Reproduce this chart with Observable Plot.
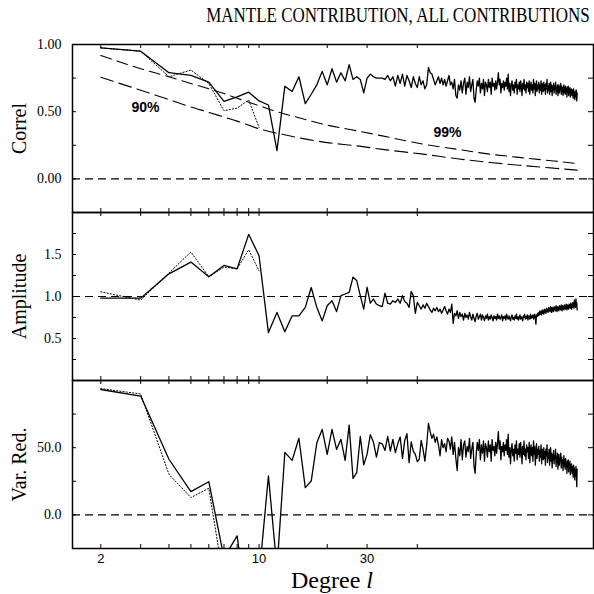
<!DOCTYPE html>
<html>
<head>
<meta charset="utf-8">
<script src="https://cdn.jsdelivr.net/npm/d3@7"></script>
<script src="https://cdn.jsdelivr.net/npm/@observablehq/plot@0.6"></script>
<style>
  body { margin: 0; background: #fff; }
  #wrap { position: relative; width: 594px; height: 594px; overflow: hidden; }
  #title { position: absolute; right: 4px; top: 2px; font-family: "Liberation Serif", "Times New Roman", serif; font-size: 22px; line-height: 26px; white-space: nowrap; color: #000; transform: scaleX(0.772); transform-origin: right center; }
  #xlabel { position: absolute; left: 291px; top: 572px; font-family: "Liberation Serif", "Times New Roman", serif; font-size: 24px; line-height: 16px; height: 16px; white-space: nowrap; color: #000; }
</style>
</head>
<body>
<div id="wrap">
  <div id="title">MANTLE CONTRIBUTION, ALL CONTRIBUTIONS</div>
  <div id="xlabel">Degree <i>l</i></div>
</div>
<script>
// ---------------- data ----------------
const degreeFirst = 2, degreeLast = 254;

// solid: correlation, degree 2..254
const correl = [
  0.975, 0.95, 0.79, 0.77, 0.72, 0.577, 0.61, 0.645, 0.58, 0.55,
  0.21, 0.69, 0.65, 0.76, 0.56, 0.63, 0.70, 0.80, 0.70, 0.82,
  0.72, 0.79, 0.73, 0.85, 0.74, 0.76, 0.74, 0.64, 0.75, 0.78,
  0.76, 0.75, 0.75, 0.75, 0.74, 0.77, 0.73, 0.76, 0.69, 0.77,
  0.71, 0.78, 0.69, 0.77, 0.73, 0.68, 0.76, 0.71, 0.68, 0.76,
  0.70, 0.73, 0.67, 0.70, 0.83, 0.79, 0.78, 0.74, 0.70,
  0.73, 0.76, 0.71, 0.75, 0.70, 0.74, 0.69, 0.73, 0.77, 0.70,
  0.72, 0.67, 0.74, 0.62, 0.60, 0.70, 0.66, 0.73, 0.64, 0.71,
  0.75, 0.63, 0.72, 0.68, 0.76, 0.65, 0.70, 0.74, 0.60, 0.57,
  0.66, 0.73, 0.69, 0.75, 0.64, 0.71, 0.67, 0.74, 0.62, 0.72,
  0.70, 0.65, 0.74, 0.68, 0.72, 0.63, 0.75, 0.69, 0.71, 0.66,
  0.73, 0.67, 0.72, 0.79, 0.70, 0.74, 0.64, 0.71, 0.68, 0.73,
  0.66, 0.72, 0.69, 0.75, 0.67, 0.78, 0.65, 0.71, 0.62, 0.70,
  0.73, 0.66, 0.70, 0.64, 0.72, 0.68, 0.74, 0.63, 0.70, 0.67,
  0.72, 0.65, 0.73, 0.69, 0.62, 0.71, 0.67, 0.74, 0.66, 0.70,
  0.64, 0.72, 0.68, 0.71, 0.65, 0.73, 0.63, 0.69, 0.72, 0.66,
  0.70, 0.64, 0.74, 0.67, 0.71, 0.62, 0.69, 0.73, 0.65, 0.70,
  0.67, 0.72, 0.64, 0.70, 0.66, 0.73, 0.63, 0.71, 0.68, 0.65,
  0.72, 0.66, 0.70, 0.63, 0.71, 0.67, 0.74, 0.64, 0.69, 0.66,
  0.71, 0.63, 0.68, 0.72, 0.65, 0.70, 0.62, 0.69, 0.66, 0.71,
  0.64, 0.69, 0.67, 0.72, 0.63, 0.68, 0.65, 0.70, 0.62, 0.67,
  0.70, 0.64, 0.68, 0.66, 0.71, 0.63, 0.69, 0.65, 0.68, 0.62,
  0.67, 0.70, 0.64, 0.68, 0.63, 0.69, 0.65, 0.67, 0.61, 0.68,
  0.65, 0.69, 0.62, 0.67, 0.64, 0.68, 0.61, 0.66, 0.63, 0.67,
  0.62, 0.66, 0.64, 0.60, 0.67, 0.63, 0.65, 0.59, 0.64, 0.61,
  0.66, 0.66, 0.58, 0.64
];

// solid: amplitude ratio, degree 2..254
const amplitude = [
  0.98, 0.98, 1.27, 1.41, 1.235, 1.37, 1.33, 1.74, 1.485, 0.57,
  0.81, 0.58, 0.77, 0.77, 0.87, 1.107, 0.87, 0.71, 0.89, 0.95,
  0.82, 1.01, 1.03, 1.05, 1.23, 1.19, 1.01, 0.85, 1.11, 0.92,
  0.97, 0.91, 0.89, 0.88, 1.04, 0.92, 0.91, 0.95, 0.93, 0.97,
  0.92, 1.01, 0.94, 0.92, 0.87, 1.06, 1.01, 0.80, 0.93, 0.89,
  0.85, 0.90, 0.86, 0.92, 0.88, 0.84, 0.81, 0.86, 0.83,
  0.87, 0.82, 0.85, 0.80, 0.84, 0.88, 0.83, 0.79, 0.85, 0.81,
  0.91, 0.68, 0.80, 0.77, 0.83, 0.74, 0.81, 0.76, 0.79, 0.72,
  0.80, 0.75, 0.78, 0.73, 0.81, 0.76, 0.72, 0.79, 0.74, 0.70,
  0.77, 0.80, 0.73, 0.76, 0.79, 0.72, 0.78, 0.75, 0.71, 0.77,
  0.74, 0.79, 0.72, 0.76, 0.73, 0.78, 0.75, 0.71, 0.77, 0.74,
  0.76, 0.72, 0.79, 0.74, 0.77, 0.73, 0.75, 0.78, 0.71, 0.76,
  0.74, 0.77, 0.72, 0.79, 0.75, 0.73, 0.77, 0.74, 0.71, 0.76,
  0.78, 0.73, 0.75, 0.72, 0.77, 0.74, 0.79, 0.73, 0.76, 0.72,
  0.75, 0.78, 0.73, 0.76, 0.74, 0.71, 0.77, 0.75, 0.79, 0.73,
  0.76, 0.74, 0.78, 0.72, 0.77, 0.75, 0.73, 0.79, 0.74, 0.77,
  0.75, 0.78, 0.73, 0.76, 0.79, 0.74, 0.67, 0.78, 0.76, 0.80,
  0.77, 0.81, 0.78, 0.83, 0.79, 0.82, 0.78, 0.84, 0.80, 0.83,
  0.79, 0.85, 0.81, 0.84, 0.80, 0.86, 0.82, 0.85, 0.81, 0.87,
  0.83, 0.86, 0.82, 0.88, 0.84, 0.81, 0.87, 0.83, 0.86, 0.82,
  0.88, 0.84, 0.87, 0.83, 0.89, 0.85, 0.82, 0.88, 0.84, 0.87,
  0.83, 0.89, 0.85, 0.88, 0.84, 0.90, 0.86, 0.83, 0.89, 0.85,
  0.88, 0.84, 0.90, 0.86, 0.89, 0.85, 0.91, 0.87, 0.84, 0.90,
  0.86, 0.89, 0.85, 0.91, 0.87, 0.90, 0.86, 0.92, 0.88, 0.85,
  0.91, 0.87, 0.93, 0.88, 0.90, 0.86, 0.96, 0.89, 0.92, 0.87,
  0.97, 0.90, 0.93, 0.84
];

// solid: variance reduction (%), degree 2..254
const varRed = [
  93.3, 88.4, 41.4, 17.3, 24.7, -32, -15.6, -78, -46, 29,
  -40, 46.5, 40.6, 57, 20.3, 25.2, 53.7, 63.6, 45, 63.6,
  48.8, 56.2, 40.6, 66.8, 27.2, 31.4, 58.4, 37.2, 45, 59.7,
  54.2, 43, 53.7, 52.9, 48, 58.4, 47.5, 56.2, 46.3, 52.9,
  57.9, 42, 55.4, 60.4, 38.9, 54.4, 47.5, 45, 39.6, 41.3,
  55.4, 49, 40, 52, 68, 62, 57, 60, 54,
  58, 52, 44, 56, 50, 53, 47, 57, 55, 49,
  58, 45, 54, 42, 33, 50, 44, 56, 41, 52,
  55, 43, 51, 47, 57, 42, 49, 54, 36, 31,
  45, 54, 48, 56, 41, 52, 46, 55, 40, 53,
  50, 43, 55, 47, 52, 40, 56, 48, 51, 44,
  54, 46, 53, 62, 49, 55, 41, 51, 47, 54,
  44, 52, 48, 56, 45, 60, 43, 50, 38, 49,
  53, 44, 49, 40, 52, 46, 55, 41, 49, 45,
  53, 43, 54, 48, 38, 51, 45, 55, 44, 49,
  41, 52, 47, 50, 42, 54, 39, 48, 52, 44,
  50, 40, 55, 45, 51, 37, 46, 53, 42, 49,
  45, 51, 40, 48, 43, 52, 38, 49, 46, 41,
  50, 42, 47, 37, 49, 44, 52, 39, 46, 42,
  49, 37, 44, 50, 40, 46, 35, 45, 41, 48,
  38, 44, 42, 49, 36, 43, 39, 46, 34, 41,
  45, 37, 42, 40, 46, 35, 43, 38, 41, 33,
  40, 44, 36, 41, 34, 42, 37, 39, 31, 40,
  36, 41, 32, 38, 35, 40, 30, 37, 33, 38,
  31, 36, 34, 28, 37, 32, 35, 26, 33, 29,
  36, 30, 21, 34
];

// dotted series (degree 2..10)
const lowDegrees = [2, 3, 4, 5, 6, 7, 8, 9, 10];
const correlDotted = [0.975, 0.95, 0.76, 0.81, 0.71, 0.507, 0.527, 0.587, 0.383];
const amplitudeDotted = [1.056, 0.957, 1.28, 1.53, 1.235, 1.35, 1.33, 1.556, 1.306];
const varRedDotted = [94, 90, 30.2, 12.9, 19.8, -50, -37, -59, -71];

// significance levels of the correlation
const sigDegrees = [2, 3, 4, 5, 6, 7, 8, 10, 12, 15, 20, 27, 35, 53, 75, 105, 150, 200, 254];
const sig90 = [0.756, 0.66, 0.59, 0.535, 0.495, 0.46, 0.43, 0.373, 0.34, 0.306, 0.27, 0.246, 0.22, 0.184, 0.15, 0.122, 0.098, 0.08, 0.065];
const sig99 = [0.918, 0.82, 0.76, 0.71, 0.67, 0.635, 0.60, 0.545, 0.50, 0.455, 0.40, 0.358, 0.32, 0.259, 0.22, 0.184, 0.155, 0.133, 0.114];
const sigLabels = ["90%", "99%"];
const sigLabelDegree = [3.15, 68];
const sigLabelValue = [0.53, 0.345];

// axes
const xTickDegrees = [2, 3, 4, 5, 6, 7, 8, 9, 10, 20, 30, 50];
const xLabelDegrees = [2, 10, 30];
const correlTicks = [-0.25, 0, 0.25, 0.5, 0.75, 1];
const correlLabels = [0, 0.5, 1];
const ampTicks = [0.25, 0.5, 0.75, 1, 1.25, 1.5, 1.75];
const ampLabels = [0.5, 1, 1.5];
const vrTicks = [0, 25, 50, 75];
const vrLabels = [0, 50];

// ---------------- drawing ----------------
const degrees = d3.range(degreeFirst, degreeLast + 1);
const toRows = (xs, ys) => ys.map((v, i) => ({l: xs[i], v}));

const W = 594, ML = 72, MR = 1, H = 168;
const FW = W - ML - MR;
const SERIF = "Liberation Serif, Times New Roman, serif";
const SANS = "Liberation Sans, Arial, Helvetica, sans-serif";

function panel(o) {
  const mb = o.xAxis ? 50 : 0;
  return Plot.plot({
    width: W,
    height: H + mb,
    marginLeft: ML,
    marginRight: MR,
    marginTop: 0,
    marginBottom: mb,
    style: {background: "none", overflow: "visible", position: "absolute", left: "0px", top: o.top + "px"},
    x: {type: "log", domain: [1.5, 300], axis: null},
    y: {domain: o.yDomain, axis: null},
    marks: [
      Plot.ruleY([o.ref], {stroke: "black", strokeWidth: 1.1, strokeDasharray: "8,5"}),
      ...o.marks,
      Plot.tickY(o.yTicks, {y: d => d, insetRight: FW - 4, stroke: "black", strokeWidth: 1}),
      Plot.tickY(o.yTicks, {y: d => d, insetLeft: FW - 5, stroke: "black", strokeWidth: 1}),
      Plot.tickX(xTickDegrees, {x: d => d, insetTop: H - 4, stroke: "black", strokeWidth: 1}),
      Plot.tickX(xTickDegrees, {x: d => d, insetBottom: H - 4, stroke: "black", strokeWidth: 1}),
      Plot.axisY(o.yLabels, {tickSize: 0, tickPadding: 11, tickFormat: o.fmt, fontFamily: SERIF, fontSize: 14, label: null, fill: "black"}),
      Plot.text([o.label], {text: d => d, frameAnchor: "left", textAnchor: "middle", dx: -53, rotate: -90, lineAnchor: "middle", fontFamily: SERIF, fontSize: o.labelSize, fill: "black"}),
      Plot.frame({stroke: "black", strokeWidth: 1.5}),
      ...(o.xAxis ? [Plot.axisX(xLabelDegrees, {tickSize: 0, tickPadding: 5, tickFormat: d => String(d), fontFamily: SANS, fontSize: 13, label: null, fill: "black"})] : [])
    ]
  });
}

const solidStyle = {x: "l", y: "v", stroke: "black", strokeWidth: 1.3, clip: true};
const dotStyle = {x: "l", y: "v", stroke: "black", strokeWidth: 1, strokeDasharray: "1.2,2", clip: true};

const p1 = panel({
  top: 44, yDomain: [-0.25, 1], ref: 0, yTicks: correlTicks, yLabels: correlLabels,
  fmt: d => d.toFixed(2), label: "Correl", labelSize: 20,
  marks: [
    Plot.line(toRows(sigDegrees, sig90), {x: "l", y: "v", curve: "monotone-x", stroke: "black", strokeWidth: 1.1, strokeDasharray: "13,6"}),
    Plot.line(toRows(sigDegrees, sig99), {x: "l", y: "v", curve: "monotone-x", stroke: "black", strokeWidth: 1.1, strokeDasharray: "11,6"}),
    Plot.line(toRows(lowDegrees, correlDotted), dotStyle),
    Plot.line(toRows(degrees, correl), solidStyle),
    Plot.text(sigLabels, {text: d => d, x: (d, i) => sigLabelDegree[i], y: (d, i) => sigLabelValue[i], fontFamily: SANS, fontWeight: "bold", fontSize: 14, fill: "black"})
  ]
});

const p2 = panel({
  top: 212, yDomain: [0, 2], ref: 1, yTicks: ampTicks, yLabels: ampLabels,
  fmt: d => d.toFixed(1), label: "Amplitude", labelSize: 20,
  marks: [
    Plot.line(toRows(lowDegrees, amplitudeDotted), dotStyle),
    Plot.line(toRows(degrees, amplitude), solidStyle)
  ]
});

const p3 = panel({
  top: 380, yDomain: [-25, 100], ref: 0, yTicks: vrTicks, yLabels: vrLabels,
  fmt: d => d.toFixed(1), label: "Var. Red.", labelSize: 20, xAxis: true,
  marks: [
    Plot.line(toRows(lowDegrees, varRedDotted), dotStyle),
    Plot.line(toRows(degrees, varRed), solidStyle)
  ]
});

const wrap = document.getElementById("wrap");
wrap.appendChild(p1);
wrap.appendChild(p2);
wrap.appendChild(p3);
</script>
</body>
</html>
